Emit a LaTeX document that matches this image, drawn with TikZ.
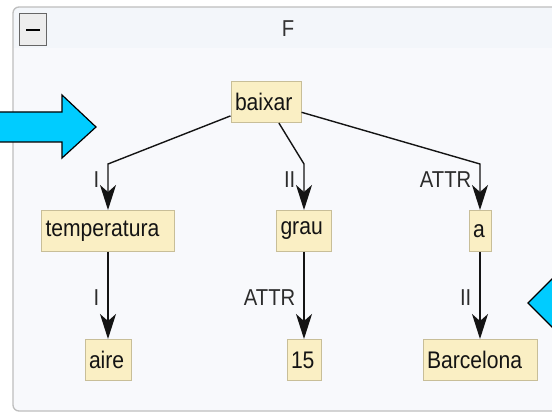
\documentclass[tikz,border=0pt]{standalone}
\usepackage{fontspec}
\setmainfont{Liberation Sans}
\newfontfamily\narfont[FakeStretch=0.88]{Liberation Sans}
\usetikzlibrary{arrows.meta}
\definecolor{cyanarrow}{RGB}{0,204,255}
\definecolor{panelbg}{RGB}{248,249,252}
\definecolor{titlebg}{RGB}{243,246,250}
\definecolor{panelborder}{RGB}{190,190,190}
\definecolor{nodefill}{RGB}{250,239,196}
\definecolor{nodeborder}{RGB}{200,190,152}
\definecolor{edgecol}{RGB}{20,20,20}
\definecolor{textcol}{RGB}{20,20,20}
\begin{document}
\begin{tikzpicture}[x=1pt,y=-1pt,
  nd/.style={draw=nodeborder, line width=1pt, fill=nodefill, minimum height=41pt, inner ysep=0pt, inner xsep=4pt, align=left, text=textcol, font=\narfont\fontsize{24}{26}\selectfont},
  edge/.style={draw=edgecol, line width=1.4pt, -{Stealth[length=25pt,width=16pt,inset=7pt]}},
  lab/.style={anchor=east, xshift=-8pt, inner sep=0pt, text=textcol!90, font=\narfont\fontsize{23}{25}\selectfont},
  bigarrow/.style={fill=cyanarrow, draw=black, line width=1.2pt, line join=miter}]
\useasboundingbox (0,0) rectangle (552,414);
\clip (0,0) rectangle (552,414);
\fill[white] (0,0) rectangle (552,414);
% panel
\begin{scope}
  \clip[rounded corners=6pt] (13,7) rectangle (620,411);
  \fill[panelbg] (13,7) rectangle (620,411);
  \fill[titlebg] (13,7) rectangle (620,48);
\end{scope}
\draw[panelborder, line width=1.3pt, rounded corners=6pt] (13,7) rectangle (620,411);
% minus button
\draw[draw=gray!80!black, fill=black!7, line width=1pt] (19,14) rectangle (46,46);
\draw[black, line width=2.5pt] (26,30) -- (40,30);
\node[text=black!80, font=\narfont\fontsize{23}{25}\selectfont] (title) at (288,29) {F};
% nodes
\node[nd, text width=62pt] (baixar) at (266,102) {baixar};
\node[nd, text width=125pt] (temperatura) at (108,231) {temperatura};
\node[nd, text width=47pt] (grau) at (304,231) {grau};
\node[nd, text width=14pt] (a) at (480,231) {a};
\node[nd, text width=38pt] (aire) at (108,360) {aire};
\node[nd, text width=26pt] (n15) at (304,360) {15};
\node[nd, text width=106pt] (barcelona) at (480,360) {Barcelona};
% bends
\coordinate (b1) at (108,164);
\coordinate (b2) at (304,164);
\coordinate (b3) at (480,164);
% edges
\draw[edge] (baixar) -- (b1) -- node[lab, pos=0.33] {I} (temperatura);
\draw[edge] (baixar) -- (b2) -- node[lab, pos=0.33] {II} (grau);
\draw[edge] (baixar) -- (b3) -- node[lab, pos=0.33] {ATTR} (a);
\draw[edge] (temperatura) -- node[lab, pos=0.52] {I} (aire);
\draw[edge] (grau) -- node[lab, pos=0.52] {ATTR} (n15);
\draw[edge] (a) -- node[lab, pos=0.52] {II} (barcelona);
% big cyan arrows
\draw[bigarrow] (-5,112) -- (62,112) -- (62,95) -- (96,127) -- (62,158) -- (62,142) -- (-5,142) -- cycle;
\draw[bigarrow] (528,303) -- (560,271) -- (560,335) -- cycle;
\end{tikzpicture}
\end{document}
